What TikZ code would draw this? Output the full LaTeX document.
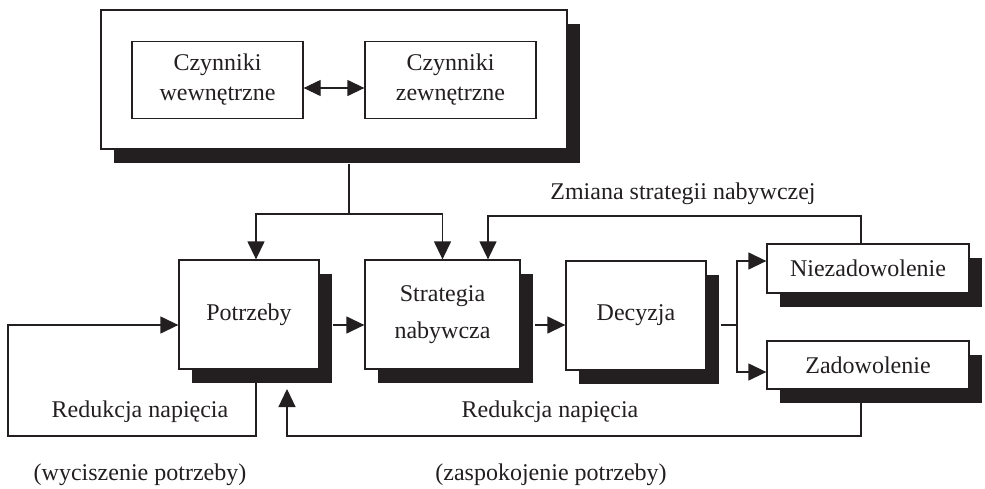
\documentclass[tikz,border=0pt]{standalone}
\usepackage{fontspec}
\setmainfont{Liberation Serif}
\usetikzlibrary{arrows.meta,shadows}
\definecolor{ink}{HTML}{231F20}
\begin{document}
\begin{tikzpicture}[x=1pt,y=-1pt,
  every node/.style={font=\fontsize{24}{30}\selectfont, text=ink},
  box/.style={draw=ink, fill=white, line width=1.3pt, inner sep=0pt, align=center},
  shbox/.style={box, general shadow={fill=ink, shadow xshift=13pt, shadow yshift=-13.5pt}},
  conn/.style={draw=ink, line width=1.3pt},
  arr/.style={conn, -{Triangle[length=18pt,width=17pt]}},
  darr/.style={conn, {Triangle[length=17pt,width=16pt]}-{Triangle[length=17pt,width=16pt]}},
  lbl/.style={inner sep=0pt}]
\useasboundingbox (0,0) rectangle (985,488);

% top group
\node[shbox, minimum width=466pt, minimum height=139pt] (top) at (334,79.5) {};
\node[box, minimum width=171pt, minimum height=77pt] (inl) at (217.5,80) {Czynniki\\wewnętrzne};
\node[box, minimum width=171pt, minimum height=77pt] (inr) at (450.5,80) {Czynniki\\zewnętrzne};
\draw[darr] ([yshift=-8pt]inl.east) -- ([yshift=-8pt]inr.west);

% main chain
\node[shbox, minimum width=140pt, minimum height=109pt] (pot) at (249,314.5) {Potrzeby};
\node[shbox, minimum width=155pt, minimum height=109pt, font=\fontsize{24}{37}\selectfont] (str) at (442.5,314.5) {Strategia\\nabywcza};
\node[shbox, minimum width=140pt, minimum height=109pt] (dec) at (636,315.5) {Decyzja};
\node[shbox, minimum width=202pt, minimum height=49pt] (nie) at (868,268.5) {Niezadowolenie};
\node[shbox, minimum width=202pt, minimum height=48pt] (zad) at (868,365) {Zadowolenie};

% labels
\node[lbl] (zm) at (683,194) {Zmiana strategii nabywczej};
\node[lbl] (r1) at (140,412) {Redukcja napięcia};
\node[lbl] (r2) at (550,412) {Redukcja napięcia};
\node[lbl] (w1) at (140,475) {(wyciszenie potrzeby)};
\node[lbl] (w2) at (551,475) {(zaspokojenie potrzeby)};

% coordinates
\coordinate (split) at (349,214);
\coordinate (topout) at ([xshift=15pt,yshift=-14pt]top.south);
\coordinate (ybr) at (0,325);
\coordinate (br) at (737,325);
\coordinate (zmr) at (861,216);
\coordinate (zml) at (488,216);
\coordinate (la) at (8,325);
\coordinate (lc) at (8,436);
\coordinate (lb) at (256,436);
\coordinate (rb) at (861,436);
\coordinate (rl) at (287,436);
\coordinate (rtip) at (287,389);

% top to potrzeby / strategia
\draw[conn] (topout) -- (split);
\draw[arr] (split) -- (256,214) -- ([xshift=7pt]pot.north);
\draw[arr] (split) -- (str.north |- split) -- (str.north);

% zmiana loop
\draw[arr] ([xshift=-7pt]nie.north) -- (zmr) -- (zml) -- ([xshift=45.5pt]str.north);

% chain arrows
\draw[arr] ([xshift=13pt]pot.east |- ybr) -- (str.west |- ybr);
\draw[arr] ([xshift=14pt]str.east |- ybr) -- (dec.west |- ybr);
\draw[conn] ([xshift=14pt]dec.east |- ybr) -- (br);
\draw[arr] (br) -- (737,261) -- (nie.west |- 0,261);
\draw[arr] (br) -- (737,372) -- (zad.west |- 0,372);

% left loop
\draw[arr] ([xshift=7pt,yshift=-13.5pt]pot.south) -- (lb) -- (lc) -- (la) -- (pot.west |- la);

% right loop
\draw[arr] ([xshift=-7pt,yshift=-13.5pt]zad.south) -- (rb) -- (rl) -- (rtip);
\end{tikzpicture}
\end{document}
